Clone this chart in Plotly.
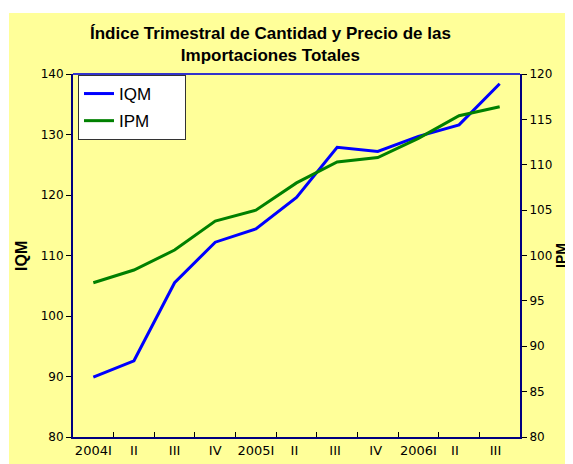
import plotly.graph_objects as go

categories = ["2004I", "II", "III", "IV", "2005I", "II ", "III ", "IV ", "2006I", "II  ", "III  "]
iqm = [89.9, 92.6, 105.5, 112.2, 114.4, 119.6, 127.9, 127.2, 129.7, 131.6, 138.4]
ipm = [97.0, 98.4, 100.6, 103.8, 105.0, 108.0, 110.3, 110.8, 112.9, 115.4, 116.4]
left_ticks = [80, 90, 100, 110, 120, 130, 140]
right_ticks = [80, 85, 90, 95, 100, 105, 110, 115, 120]

FONT = "Liberation Sans, Arial, sans-serif"
TFONT = "DejaVu Sans, sans-serif"
YELLOW = "#FFFF99"
NAVY = "#000080"
PAD = "\u00a0" * 6

# page body has an 8px margin: figure occupies (8,8)-(573,464) of the window
OFF = 8
W, H = 573 - OFF, 464 - OFF
PX0, PX1, PY0, PY1 = 73, 520, 74, 437  # plot area in window pixels
L, T = PX0 - OFF, PY0 - OFF
R, B = W - (PX1 - OFF), H - (PY1 - OFF)
pw, ph = PX1 - PX0, PY1 - PY0


def px(x):
    return (x - PX0) / pw


def py(y):
    return (PY1 - y) / ph


fig = go.Figure()
fig.add_trace(go.Scatter(x=categories, y=iqm, name="IQM" + PAD, mode="lines",
                         line=dict(color="#0000FF", width=3), legendgroup="a"))
fig.add_trace(go.Scatter(x=categories, y=ipm, name="IPM" + PAD, mode="lines",
                         line=dict(color="#008000", width=3), yaxis="y2", legendgroup="b"))

fig.update_layout(
    width=W, height=H, autosize=False,
    margin=dict(l=L, r=R, t=T, b=B, pad=0, autoexpand=False),
    paper_bgcolor="white", plot_bgcolor=YELLOW,
    font=dict(family=FONT, size=12, color="black"),
    showlegend=True,
    legend=dict(x=px(78), y=py(75), xanchor="left", yanchor="top",
                bgcolor="white", bordercolor="#333333", borderwidth=1,
                font=dict(size=17, family=FONT), traceorder="grouped", tracegroupgap=2,
                itemwidth=30),
    xaxis=dict(type="category", showgrid=False, zeroline=False, automargin=False,
               showline=True, linecolor=NAVY, linewidth=2, tickangle=0,
               ticks="inside", tickson="boundaries", ticklen=5, tickcolor="black",
               tickfont=dict(size=13, family=TFONT), range=[-0.5, 10.5]),
    yaxis=dict(range=[80, 140], tickvals=left_ticks, showgrid=False, zeroline=False,
               automargin=False,
               showline=True, linecolor=NAVY, linewidth=2,
               ticks="outside", ticklen=5, tickcolor="black",
               tickfont=dict(size=12, family=TFONT)),
    yaxis2=dict(range=[80, 120], tickvals=right_ticks, overlaying="y", side="right",
                automargin=False,
                showgrid=False, zeroline=False, showline=True, linecolor=NAVY, linewidth=2,
                ticks="outside", ticklen=5, tickcolor="black",
                tickfont=dict(size=12, family=TFONT)),
    shapes=[
        dict(type="rect", xref="paper", yref="paper", layer="below",
             x0=px(9), x1=px(580), y0=py(470), y1=py(13),
             fillcolor=YELLOW, line=dict(width=0)),
        dict(type="line", xref="paper", yref="paper", x0=0, x1=1, y0=1, y1=1,
             line=dict(color="#3333CC", width=2)),
    ],
    annotations=[
        dict(text="<b>Índice Trimestral de Cantidad y Precio de las<br>Importaciones Totales</b>",
             xref="paper", yref="paper", x=px(270), y=py(44),
             xanchor="center", yanchor="middle", showarrow=False,
             font=dict(size=17, family=FONT)),
        dict(text="<b>IQM</b>", xref="paper", yref="paper", x=px(22), y=py(256),
             textangle=-90, showarrow=False, xanchor="center", yanchor="middle",
             font=dict(size=16, family=FONT)),
        dict(text="<b>IPM</b>", xref="paper", yref="paper", x=px(561), y=py(256),
             textangle=-90, showarrow=False, xanchor="center", yanchor="middle",
             font=dict(size=14, family=FONT)),
    ],
)

fig.write_html("out.html")
